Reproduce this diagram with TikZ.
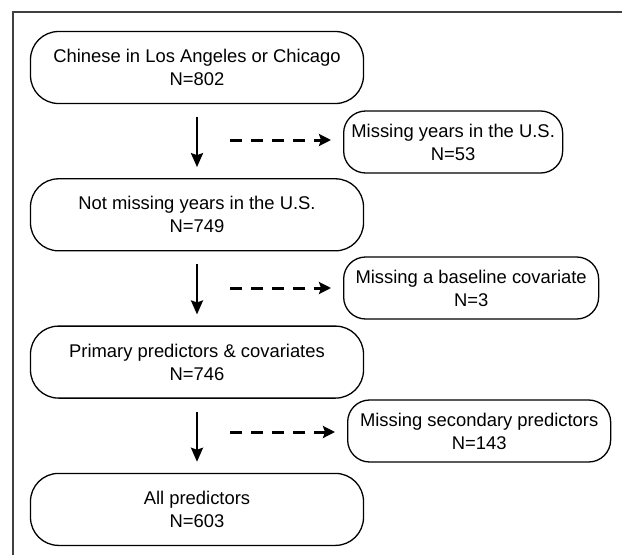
\documentclass[tikz,border=0pt]{standalone}
\usepackage{fontspec}
\setmainfont{Liberation Sans}
\usetikzlibrary{arrows.meta,positioning,calc}

\begin{document}
\begin{tikzpicture}[
  x=1pt, y=-1pt,
  node distance=74pt,
  mainbox/.style={draw, rounded corners=28pt, align=center, minimum width=333pt,
                  minimum height=72pt, line width=1.3pt, font=\fontsize{18.4}{23}\selectfont},
  sidebox/.style={draw, rounded corners=22pt, align=center, minimum height=62pt,
                  inner xsep=5pt, anchor=west, line width=1.3pt, font=\fontsize{18.4}{23}\selectfont},
  arrow/.style={-{Stealth[length=14pt,width=12pt,inset=2pt]}, line width=2.5pt,
                shorten <=13pt, shorten >=11pt},
  dasharrow/.style={-{Stealth[length=12pt,width=12pt,inset=2pt]}, line width=3pt,
                    dash pattern=on 12pt off 9pt, shorten >=12pt}
]
\useasboundingbox (0,0) rectangle (622,555);
\draw[line width=1.3pt, black!75] (13,555) -- (13,12) -- (622,12);

\node[mainbox] (cohort) at (197,67.5) {Chinese in Los Angeles or Chicago\\N=802};
\node[mainbox, below=of cohort] (yearsknown) {Not missing years in the U.S.\\N=749};
\node[mainbox, below=of yearsknown] (primary) {Primary predictors \& covariates\\N=746};
\node[mainbox, below=of primary] (allpred) {All predictors\\N=603};

\node[sidebox, minimum width=219pt] (missyears) at (343,142) {Missing years in the U.S.\\N=53};
\node[sidebox, minimum width=255pt] (misscov) at (343,288) {Missing a baseline covariate\\N=3};
\node[sidebox, minimum width=263pt] (misssec) at (347,431) {Missing secondary predictors\\N=143};

\coordinate (exit1) at (230,140);
\coordinate (exit2) at (230,288);
\coordinate (exit3) at (230,432);

\draw[arrow] (cohort) -- (yearsknown);
\draw[arrow] (yearsknown) -- (primary);
\draw[arrow] (primary) -- (allpred);
\draw[dasharrow] (exit1) -- (exit1 -| missyears.west);
\draw[dasharrow] (exit2) -- (exit2 -| misscov.west);
\draw[dasharrow] (exit3) -- (exit3 -| misssec.west);
\end{tikzpicture}
\end{document}
